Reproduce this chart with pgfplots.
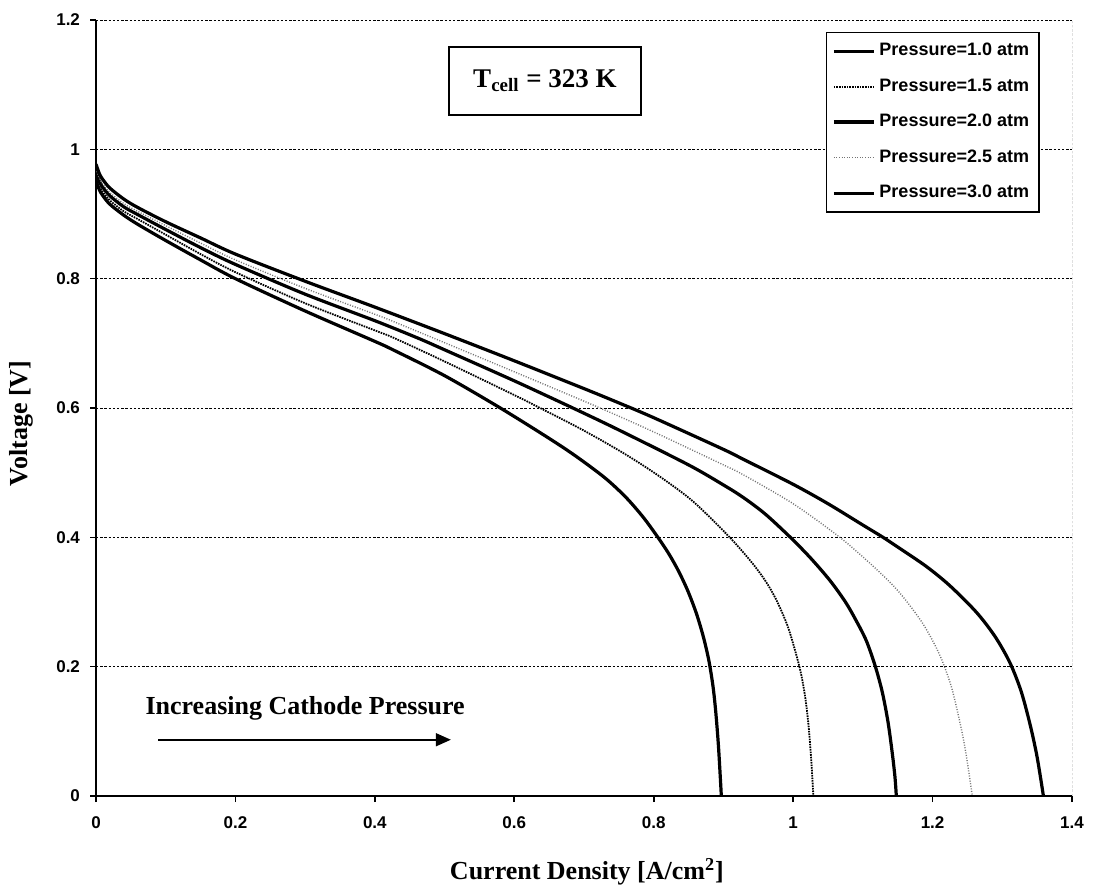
\documentclass[border=0pt]{standalone}
\usepackage{pgfplots}
\pgfplotsset{compat=1.18}
\usepackage{fontspec}
\setmainfont{Liberation Serif}
\newfontfamily\arialf{Liberation Sans}
\usetikzlibrary{arrows.meta}

\begin{document}
\begin{tikzpicture}
\useasboundingbox (-48pt,-47pt) rectangle (501.5pt,398pt);
\begin{axis}[
  at={(0,0)}, anchor=south west,
  scale only axis, width=488pt, height=388pt,
  xmin=0, xmax=1.4, ymin=0, ymax=1.2,
  xtick={0,0.2,0.4,0.6,0.8,1,1.2,1.4},
  ytick={0,0.2,0.4,0.6,0.8,1,1.2},
  axis x line*=bottom, axis y line*=left,
  axis line style={-, line width=0.9pt},
  tick align=outside, major tick length=3pt,
  tick style={black, line width=0.8pt},
  ymajorgrids,
  grid style={black, line width=0.5pt, dash pattern=on 1.2pt off 0.9pt},
  /pgf/number format/assume math mode=true,
  ticklabel style={font=\arialf\bfseries\fontsize{8.5}{10}\selectfont},
  xticklabel style={yshift=-4pt},
  yticklabel style={xshift=-1.5pt},
  xlabel={Current Density [A/cm\textsuperscript{2}]},
  ylabel={Voltage [V]},
  label style={font=\bfseries\fontsize{13}{15}\selectfont},
  xlabel style={at={(axis description cs:0.503,-0.098)}, anchor=center},
  ylabel style={at={(axis description cs:-0.0768,0.48)}, anchor=center},
  no markers,
  legend style={at={(axis description cs:0.967,0.985)}, anchor=north east,
    draw=black, line width=0.7pt,
    font=\arialf\bfseries\fontsize{9}{10}\selectfont,
    row sep=6pt, inner xsep=3pt, inner ysep=3.5pt},
  legend cell align=left,
  legend image code/.code={\draw[#1] (0pt,0pt) -- (20pt,0pt);},
]
% 1.0 atm
\addplot[black, line width=1.6pt, smooth] coordinates {
(0.000,0.952) (0.005,0.937) (0.01,0.928) (0.02,0.915) (0.04,0.898) (0.06,0.884)
(0.1,0.859) (0.15,0.829) (0.2,0.800) (0.3,0.750) (0.4,0.703) (0.426,0.690)
(0.5,0.650) (0.58,0.600) (0.65,0.553) (0.689,0.525) (0.73,0.492) (0.76,0.462)
(0.785,0.431) (0.806,0.400) (0.822,0.374) (0.836,0.347) (0.849,0.317) (0.861,0.283)
(0.871,0.247) (0.879,0.210) (0.885,0.170) (0.889,0.130) (0.893,0.075) (0.897,0.0)};
\addlegendentry{Pressure=1.0 atm}
% 1.5 atm
\addplot[black, line width=0.9pt, dash pattern=on 0.8pt off 0.5pt, smooth] coordinates {
(0,0.958) (0.005,0.943) (0.01,0.934) (0.02,0.921) (0.04,0.904) (0.06,0.892)
(0.1,0.868) (0.15,0.838) (0.2,0.810) (0.3,0.762) (0.4,0.720) (0.426,0.709)
(0.5,0.672) (0.6,0.620) (0.637,0.600) (0.7,0.565) (0.76,0.528) (0.81,0.493)
(0.857,0.455) (0.909,0.400) (0.94,0.362) (0.96,0.333) (0.976,0.303) (0.993,0.260)
(1.009,0.200) (1.017,0.155) (1.022,0.110) (1.026,0.055) (1.029,0)};
\addlegendentry{Pressure=1.5 atm}
% 2.0 atm
\addplot[black, line width=1.6pt, smooth] coordinates {
(0,0.965) (0.005,0.950) (0.01,0.941) (0.02,0.928) (0.04,0.911) (0.06,0.899)
(0.1,0.876) (0.15,0.848) (0.2,0.822) (0.3,0.776) (0.4,0.735) (0.462,0.708)
(0.5,0.690) (0.6,0.642) (0.684,0.600) (0.75,0.566) (0.85,0.512) (0.9,0.481)
(0.928,0.462) (0.96,0.436) (0.996,0.400) (1.025,0.368) (1.053,0.333) (1.075,0.300)
(1.09,0.272) (1.105,0.240) (1.118,0.200) (1.128,0.160) (1.136,0.115) (1.142,0.068)
(1.146,0.030) (1.148,0)};
\addlegendentry{Pressure=2.0 atm}
% 2.5 atm
\addplot[black!55, line width=0.7pt, dash pattern=on 0.5pt off 0.8pt, smooth] coordinates {
(0,0.970) (0.005,0.955) (0.01,0.946) (0.02,0.933) (0.04,0.916) (0.06,0.904)
(0.1,0.882) (0.15,0.855) (0.2,0.829) (0.3,0.785) (0.4,0.745) (0.426,0.734)
(0.5,0.701) (0.6,0.656) (0.723,0.600) (0.8,0.563) (0.9,0.512) (0.928,0.497)
(1.0,0.452) (1.067,0.400) (1.11,0.360) (1.143,0.326) (1.165,0.298) (1.187,0.265)
(1.205,0.230) (1.216,0.203) (1.228,0.165) (1.240,0.110) (1.248,0.065) (1.257,0)};
\addlegendentry{Pressure=2.5 atm}
% 3.0 atm
\addplot[black, line width=1.6pt, smooth] coordinates {
(0,0.977) (0.005,0.962) (0.01,0.953) (0.02,0.940) (0.04,0.923) (0.06,0.910)
(0.1,0.888) (0.15,0.863) (0.2,0.838) (0.3,0.796) (0.4,0.756) (0.5,0.715)
(0.6,0.673) (0.7,0.630) (0.752,0.607) (0.8,0.585) (0.9,0.536) (0.928,0.521)
(1.0,0.482) (1.05,0.452) (1.1,0.419) (1.129,0.400) (1.15,0.385) (1.191,0.355)
(1.225,0.325) (1.263,0.284) (1.29,0.246) (1.311,0.206) (1.327,0.162) (1.340,0.110)
(1.350,0.060) (1.359,0.0)};
\addlegendentry{Pressure=3.0 atm}

\draw[black, line width=0.5pt, dash pattern=on 1.2pt off 0.9pt] (rel axis cs:1,0) -- (rel axis cs:1,1);
\node[draw, line width=0.8pt, minimum width=96pt, minimum height=34pt, inner sep=0pt,
  font=\bfseries\fontsize{13.5}{15}\selectfont] at (axis cs:0.644,1.106) {T\textsubscript{cell} = 323 K};
\node[font=\bfseries\fontsize{13}{15}\selectfont, anchor=base] at (axis cs:0.300,0.126) {Increasing Cathode Pressure};
\draw[line width=0.8pt, -{Triangle[length=7.5pt,width=6.5pt]}] (axis cs:0.089,0.087) -- (axis cs:0.509,0.087);
\end{axis}
\end{tikzpicture}
\end{document}
